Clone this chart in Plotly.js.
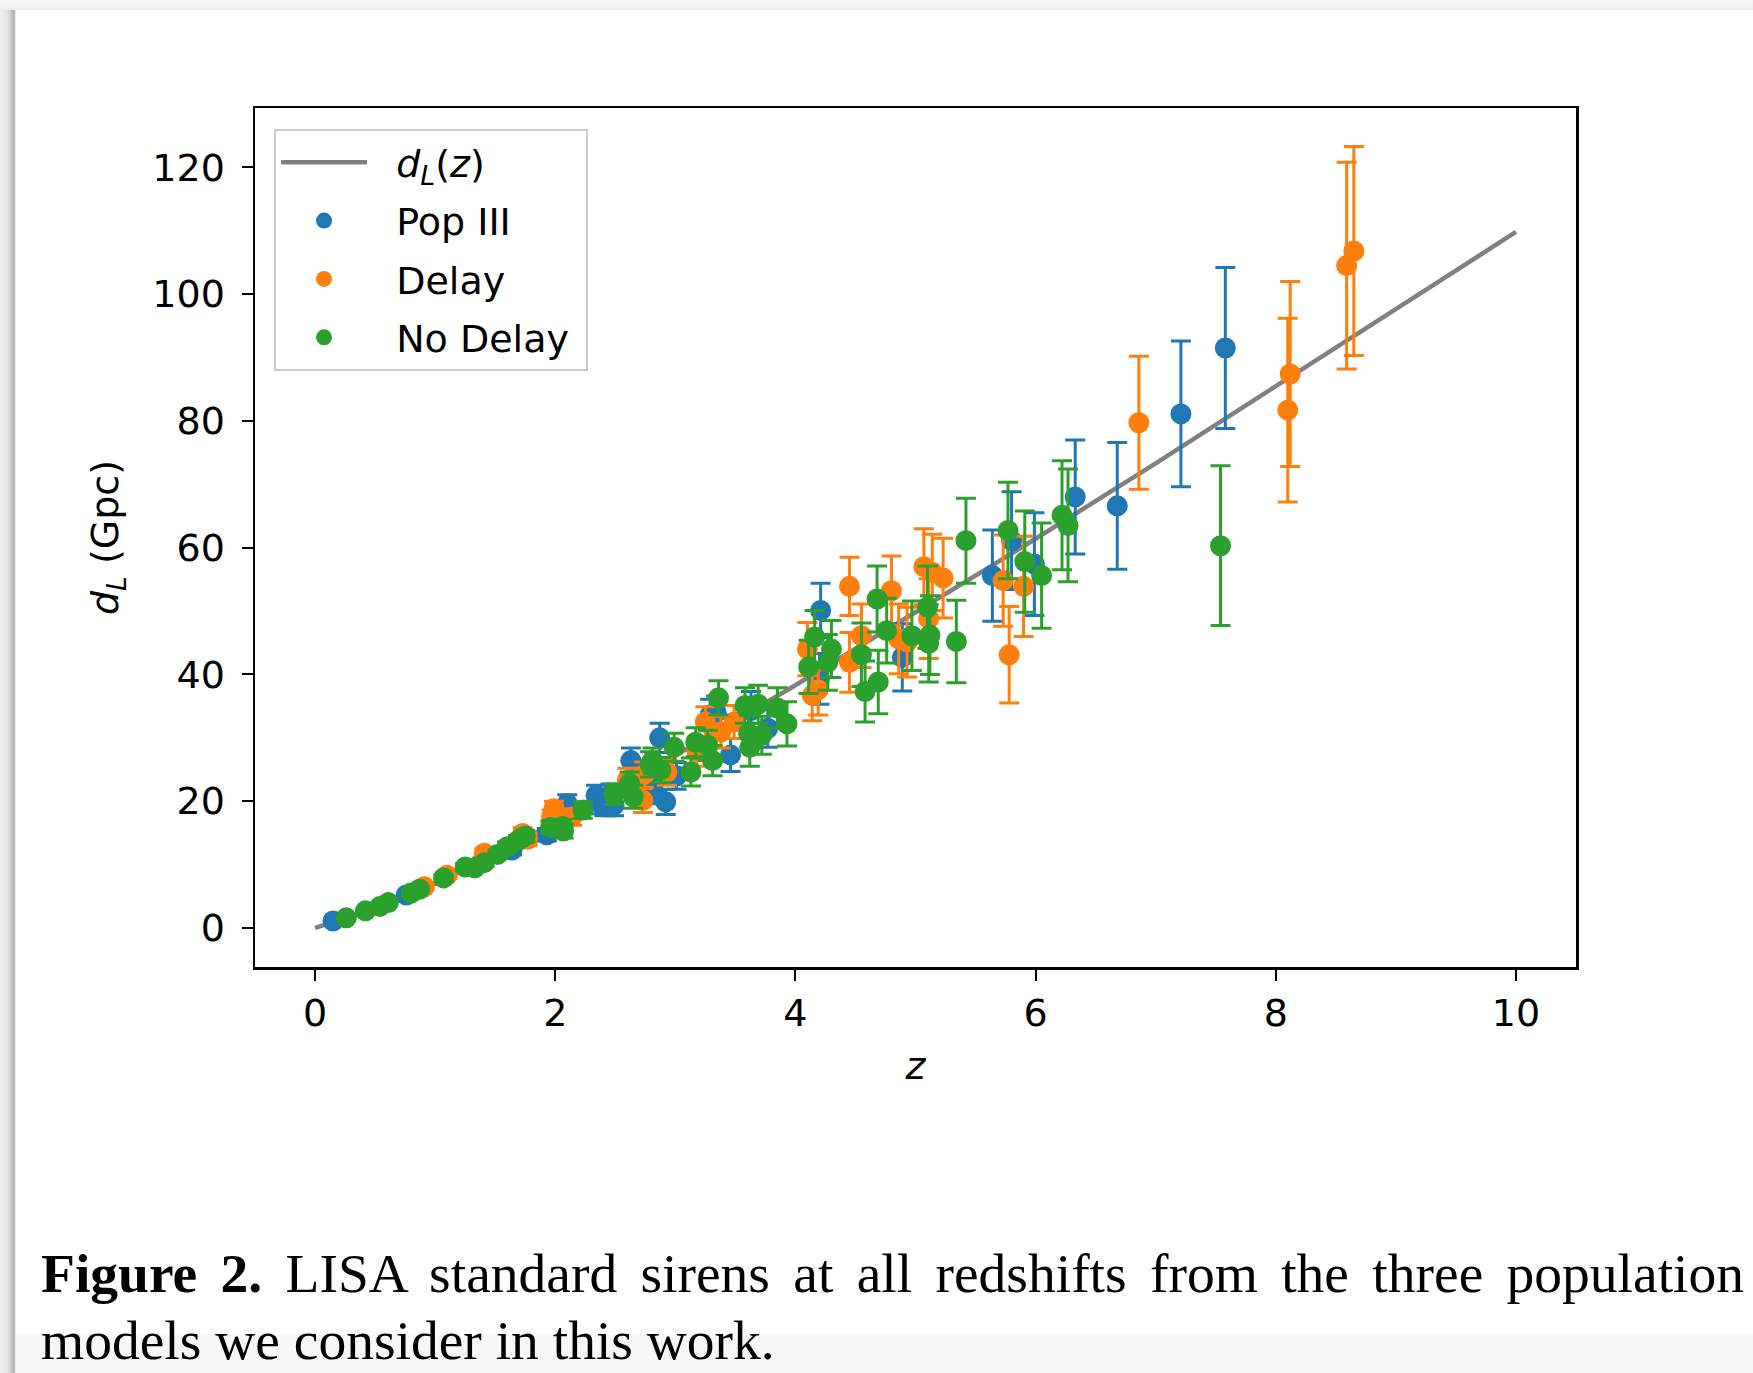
<!DOCTYPE html>
<html>
<head>
<meta charset="utf-8">
<script src="https://cdn.plot.ly/plotly-3.0.1.min.js"></script>
<style>
  html, body { margin:0; padding:0; background:#ffffff; }
  #page { position:relative; width:1753px; height:1373px; overflow:hidden; background:#ffffff; }
  #topband { position:absolute; left:0; top:0; width:1753px; height:10px; background:linear-gradient(to bottom,#f4f4f4 0px,#f2f2f2 8px,#e9e9e9 10px); }
  #leftshadow { position:absolute; left:0; top:10px; width:16px; height:1363px; background:linear-gradient(to right,#f1f1f1 0px,#e2e2e2 8px,#c4c4c4 12px,#a9a9a9 14px,#ffffff 16px); }
  #bottomband { position:absolute; left:16px; top:1335px; width:1737px; height:38px; background:#f7f7f7; }
  #chart { position:absolute; left:0; top:0; width:1753px; height:1373px; }
  .cap { position:absolute; left:41px; width:1703px; font-family:"Liberation Serif","DejaVu Serif",serif; font-size:55.5px; line-height:1; color:#000; white-space:nowrap; }
  #cap1 { top:1246px; text-align:justify; text-align-last:justify; white-space:normal; }
  #cap2 { top:1313px; }
</style>
</head>
<body>
<div id="page">
  <div id="topband"></div>
  <div id="leftshadow"></div>
  <div id="bottomband"></div>
  <div id="chart"></div>
  <div class="cap" id="cap1"><b>Figure 2.</b> LISA standard sirens at all redshifts from the three population</div>
  <div class="cap" id="cap2">models we consider in this work.</div>
</div>
<script>
// d_L(z) reference curve
const lineZ = [0, 0.5, 1, 1.5, 2, 2.5, 3, 3.5, 4, 5, 6, 7, 8, 9, 10];
const lineD = [0, 3.0, 7.0, 11.6, 16.6, 21.8, 27.2, 32.7, 38.3, 49.8, 61.4, 73.3, 85.4, 97.6, 109.8];

// Pop III
const popZ   = [0.15, 0.76, 1.64, 1.93, 2.10, 2.34, 2.38, 2.41, 2.49, 2.46, 2.63, 2.82, 2.87, 2.92, 3.01, 3.29, 3.34, 3.46, 3.63, 3.77, 4.20, 4.21, 4.89, 5.64, 5.80, 5.99, 6.33, 6.68, 7.21, 7.58];
const popD   = [1.1, 5.2, 12.3, 14.7, 19.6, 20.9, 19.6, 19.3, 19.4, 21.0, 26.4, 21.5, 30.0, 19.9, 24.0, 33.6, 34.0, 27.3, 34.3, 31.5, 39.3, 50.1, 42.7, 55.6, 61.1, 57.4, 68.0, 66.6, 81.1, 91.5];
const popErr = [0.1, 0.3, 0.8, 1.0, 1.4, 1.6, 1.6, 1.6, 1.7, 1.7, 2.0, 1.9, 2.3, 2.0, 2.1, 2.5, 2.6, 2.6, 3.0, 3.0, 4.0, 4.3, 5.3, 7.2, 7.7, 8.1, 9.0, 10.0, 11.5, 12.7];

// Delay
const delZ   = [0.91, 1.10, 1.39, 1.41, 1.73, 1.77, 1.97, 1.99, 2.14, 2.60, 2.73, 2.74, 2.93, 3.18, 3.25, 3.38, 3.49, 4.10, 4.14, 4.19, 4.45, 4.45, 4.55, 4.80, 4.86, 4.93, 5.07, 5.11, 5.14, 5.23, 5.73, 5.78, 5.90, 6.86, 8.10, 8.12, 8.59, 8.65];
const delD   = [6.5, 8.3, 10.4, 11.8, 14.9, 14.0, 17.5, 18.8, 17.5, 23.3, 20.1, 24.2, 24.6, 27.8, 32.5, 30.9, 32.5, 44.0, 36.7, 37.6, 53.9, 41.9, 46.1, 53.2, 45.6, 45.1, 57.0, 48.8, 56.1, 55.2, 54.8, 43.1, 53.9, 79.7, 81.7, 87.4, 104.5, 106.8];
const delErr = [0.4, 0.5, 0.6, 0.7, 0.9, 0.9, 1.1, 1.2, 1.3, 1.9, 1.9, 2.0, 2.1, 2.3, 2.4, 2.5, 2.6, 4.2, 4.0, 4.0, 4.6, 4.7, 5.0, 5.5, 5.5, 5.5, 6.0, 6.3, 6.0, 6.3, 7.2, 7.6, 7.9, 10.5, 14.5, 14.6, 16.3, 16.5];

// No Delay
const ndZ   = [0.26, 0.42, 0.54, 0.61, 0.80, 0.87, 1.07, 1.25, 1.33, 1.41, 1.52, 1.60, 1.69, 1.75, 1.96, 2.06, 2.07, 2.23, 2.49, 2.62, 2.65, 2.79, 2.81, 2.88, 2.99, 3.13, 3.17, 3.27, 3.31, 3.36, 3.58, 3.61, 3.62, 3.69, 3.72, 3.85, 3.93, 4.11, 4.16, 4.27, 4.30, 4.55, 4.58, 4.68, 4.69, 4.76, 4.97, 5.10, 5.11, 5.12, 5.34, 5.42, 5.77, 5.91, 6.05, 6.22, 6.27, 7.54];
const ndD   = [1.6, 2.7, 3.4, 4.0, 5.5, 6.1, 7.9, 9.6, 9.5, 10.3, 11.6, 12.8, 13.8, 14.5, 15.9, 16.0, 15.3, 18.6, 21.1, 22.8, 20.7, 25.8, 26.4, 24.9, 28.5, 24.6, 29.3, 28.8, 26.4, 36.3, 35.1, 30.7, 28.5, 35.3, 30.4, 34.7, 32.2, 41.2, 45.9, 41.9, 44.0, 43.1, 37.3, 51.9, 38.8, 46.9, 46.1, 50.6, 44.9, 46.2, 45.2, 61.1, 62.7, 57.8, 55.6, 65.1, 63.5, 60.3];
const ndErr = [0.1, 0.2, 0.2, 0.2, 0.3, 0.4, 0.5, 0.6, 0.6, 0.6, 0.7, 0.8, 0.8, 0.9, 1.0, 1.1, 1.1, 1.3, 1.6, 1.8, 1.8, 2.0, 2.0, 2.0, 2.2, 2.2, 2.3, 2.4, 2.4, 2.7, 2.8, 2.8, 3.0, 3.0, 3.0, 3.2, 3.5, 4.2, 4.2, 4.4, 4.5, 5.0, 4.8, 5.2, 5.0, 5.1, 5.5, 6.5, 6.1, 6.2, 6.5, 6.7, 7.6, 8.0, 8.3, 8.6, 8.9, 12.6];

const xTicks = [0, 2, 4, 6, 8, 10];
const yTicks = [0, 20, 40, 60, 80, 100, 120];

const FONT = "DejaVu Sans, Verdana, sans-serif";
const MS = 21;
const PAD = '\u00A0\u00A0';
const TAIL = '\u00A0';

function errTrace(name, xs, ys, errs, color, grp) {
  return {
    type: 'scatter', mode: 'markers', name: PAD + name + TAIL, x: xs, y: ys,
    legendgroup: grp,
    marker: { color: color, size: MS, line: { width: 0 } },
    error_y: { type: 'data', array: errs, visible: true, color: color, thickness: 3, width: 10 },
    hoverinfo: 'skip'
  };
}

const data = [
  { type: 'scatter', mode: 'lines', name: PAD + '<i>d</i><sub><i>L</i></sub>(<i>z</i>)', x: lineZ, y: lineD,
    legendgroup: 'g0', line: { color: '#808080', width: 4.5 }, hoverinfo: 'skip' },
  errTrace('Pop III', popZ, popD, popErr, '#1f77b4', 'g1'),
  errTrace('Delay', delZ, delD, delErr, '#ff7f0e', 'g2'),
  errTrace('No Delay', ndZ, ndD, ndErr, '#2ca02c', 'g3')
];

const axisCommon = {
  showline: true, mirror: true, linecolor: '#000000', linewidth: 2.5,
  ticks: 'outside', ticklen: 11, tickwidth: 2, tickcolor: '#000000',
  showgrid: false, zeroline: false,
  tickfont: { family: FONT, size: 38, color: '#000000' }
};

const layout = {
  width: 1753, height: 1373,
  margin: { l: 255, r: 177, t: 108, b: 406 },
  paper_bgcolor: 'rgba(0,0,0,0)',
  plot_bgcolor: '#ffffff',
  font: { family: FONT, size: 38, color: '#000000' },
  showlegend: true,
  xaxis: Object.assign({}, axisCommon, {
    range: [-0.5, 10.5], tickmode: 'array', tickvals: xTicks, ticktext: xTicks.map(String),
    title: { text: '<i>z</i>', font: { family: FONT, size: 38 }, standoff: 19 }
  }),
  yaxis: Object.assign({}, axisCommon, {
    range: [-6.16, 129.36], tickmode: 'array', tickvals: yTicks, ticktext: yTicks.map(String),
    ticklabelstandoff: 9,
    title: { text: '<i>d</i><sub><i>L</i></sub> (Gpc)', font: { family: FONT, size: 38 }, standoff: 22 }
  }),
  legend: {
    x: 0.0144, y: 0.9756, xanchor: 'left', yanchor: 'top',
    bgcolor: 'rgba(255,255,255,0.8)', bordercolor: '#cccccc', borderwidth: 2,
    font: { family: FONT, size: 38, color: '#000000' },
    traceorder: 'grouped', tracegroupgap: 6, itemwidth: 86
  }
};

Plotly.newPlot('chart', data, layout, { staticPlot: true, displayModeBar: false });
</script>
</body>
</html>
